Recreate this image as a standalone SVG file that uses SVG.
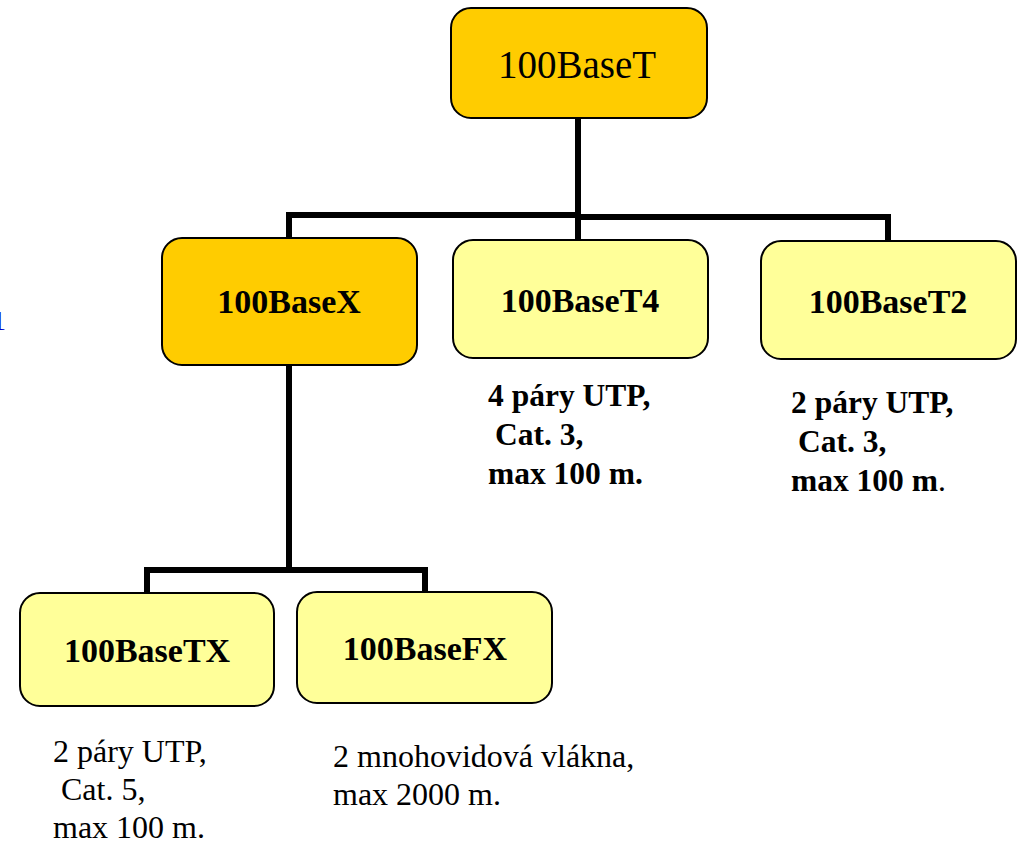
<svg xmlns="http://www.w3.org/2000/svg" width="1017" height="845" viewBox="0 0 1017 845">
<style>
.box{stroke:#000;stroke-width:2}
.dark{fill:#FFCC00}
.light{fill:#FFFF99}
.lbl{font-family:"Liberation Serif","Times New Roman",serif;font-weight:bold;font-size:34px;text-anchor:middle;fill:#000}
.root{font-family:"Liberation Serif","Times New Roman",serif;font-size:39px;text-anchor:middle;fill:#000}
.desc{font-family:"Liberation Serif","Times New Roman",serif;font-weight:bold;font-size:31.5px;fill:#000}
.note{font-family:"Liberation Serif","Times New Roman",serif;font-size:32px;fill:#000}
.conn{fill:none;stroke:#000;stroke-width:6;stroke-linejoin:miter;stroke-linecap:butt}
</style>
<rect width="1017" height="845" fill="#fff"/>
<text x="-8" y="330" font-family="Liberation Serif, serif" font-size="28" fill="#0000CC">1</text>
<g id="connectors">
<path class="conn" d="M578 118 V215"/>
<path class="conn" d="M289 239 V215 H578 V241"/>
<path class="conn" d="M578 217 H888 V241"/>
<path class="conn" d="M289 365 V570"/>
<path class="conn" d="M147 593 V570 H425 V592"/>
</g>
<g id="n-100BaseT">
<rect class="box dark" x="451" y="8" width="256" height="110" rx="20"/>
<text class="root" x="577" y="78">100BaseT</text>
</g>
<g id="n-100BaseX">
<rect class="box dark" x="162" y="238" width="255" height="127" rx="20"/>
<text class="lbl" x="289" y="313">100BaseX</text>
</g>
<g id="n-100BaseT4">
<rect class="box light" x="453" y="240" width="255" height="118" rx="20"/>
<text class="lbl" x="580" y="312">100BaseT4</text>
</g>
<g id="n-100BaseT2">
<rect class="box light" x="761" y="241" width="255" height="118" rx="20"/>
<text class="lbl" x="888" y="313">100BaseT2</text>
</g>
<g id="n-100BaseTX">
<rect class="box light" x="20" y="593" width="254" height="113" rx="20"/>
<text class="lbl" x="147" y="662">100BaseTX</text>
</g>
<g id="n-100BaseFX">
<rect class="box light" x="297" y="592" width="255" height="111" rx="20"/>
<text class="lbl" x="425" y="660">100BaseFX</text>
</g>
<g id="desc-T4">
<text class="desc" x="488" y="406">4 páry UTP,</text>
<text class="desc" x="495" y="445">Cat. 3,</text>
<text class="desc" x="488" y="484">max 100 m.</text>
</g>
<g id="desc-T2">
<text class="desc" x="791" y="413">2 páry UTP,</text>
<text class="desc" x="798" y="452">Cat. 3,</text>
<text class="desc" x="791" y="491">max 100 m<tspan font-weight="normal">.</tspan></text>
</g>
<g id="desc-TX">
<text class="note" x="53" y="762">2 páry UTP,</text>
<text class="note" x="61" y="800">Cat. 5,</text>
<text class="note" x="53" y="838">max 100 m.</text>
</g>
<g id="desc-FX">
<text class="note" x="333" y="767">2 mnohovidová vlákna,</text>
<text class="note" x="333" y="805">max 2000 m.</text>
</g>
</svg>
